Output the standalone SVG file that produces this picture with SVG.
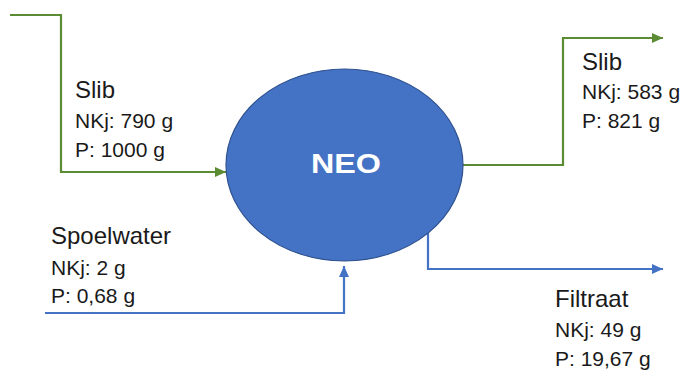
<svg xmlns="http://www.w3.org/2000/svg" width="680" height="370" viewBox="0 0 680 370">
  <style>
    .lbl { font-family: "Liberation Sans", Arial, sans-serif; fill: #1a1a1a; }
    .title { font-size: 24px; }
    .detail { font-size: 21px; }
    .green { stroke: #5b8c34; stroke-width: 2.2; fill: none; }
    .blue { stroke: #4472c4; stroke-width: 2.2; fill: none; }
  </style>
  <defs>
    <marker id="ag" markerUnits="userSpaceOnUse" markerWidth="12" markerHeight="10" refX="11" refY="5" orient="auto">
      <path d="M0,0 L11,5 L0,10 Z" fill="#5b8c34"/>
    </marker>
    <marker id="ab" markerUnits="userSpaceOnUse" markerWidth="12" markerHeight="10" refX="11" refY="5" orient="auto">
      <path d="M0,0 L11,5 L0,10 Z" fill="#4472c4"/>
    </marker>
  </defs>
  <rect width="680" height="370" fill="#ffffff"/>

  <g id="connectors">
    <path class="green" d="M10,15 H61 V172 H226" marker-end="url(#ag)"/>
    <path class="green" d="M463,165 H563 V38 H663" marker-end="url(#ag)"/>
    <path class="blue" d="M45,313 H344 V266" marker-end="url(#ab)"/>
    <path class="blue" d="M428,231 V269 H663" marker-end="url(#ab)"/>
  </g>

  <g id="neo">
    <ellipse cx="344.5" cy="165" rx="118.5" ry="96" fill="#4472c4" stroke="#2f528f" stroke-width="1.2"/>
    <text x="346" y="173" text-anchor="middle" font-family="Liberation Sans, Arial, sans-serif" font-weight="bold" font-size="27" fill="#ffffff" textLength="70" lengthAdjust="spacingAndGlyphs">NEO</text>
  </g>

  <g id="label-slib-in" class="lbl">
    <text class="title" x="75" y="98">Slib</text>
    <text class="detail" x="75" y="128">NKj: 790 g</text>
    <text class="detail" x="75" y="157">P: 1000 g</text>
  </g>

  <g id="label-slib-out" class="lbl">
    <text class="title" x="582" y="70">Slib</text>
    <text class="detail" x="582" y="99">NKj: 583 g</text>
    <text class="detail" x="582" y="128">P: 821 g</text>
  </g>

  <g id="label-spoelwater" class="lbl">
    <text class="title" x="51" y="244">Spoelwater</text>
    <text class="detail" x="51" y="275">NKj: 2 g</text>
    <text class="detail" x="51" y="303">P: 0,68 g</text>
  </g>

  <g id="label-filtraat" class="lbl">
    <text class="title" x="555" y="307">Filtraat</text>
    <text class="detail" x="555" y="337">NKj: 49 g</text>
    <text class="detail" x="555" y="366">P: 19,67 g</text>
  </g>
</svg>
